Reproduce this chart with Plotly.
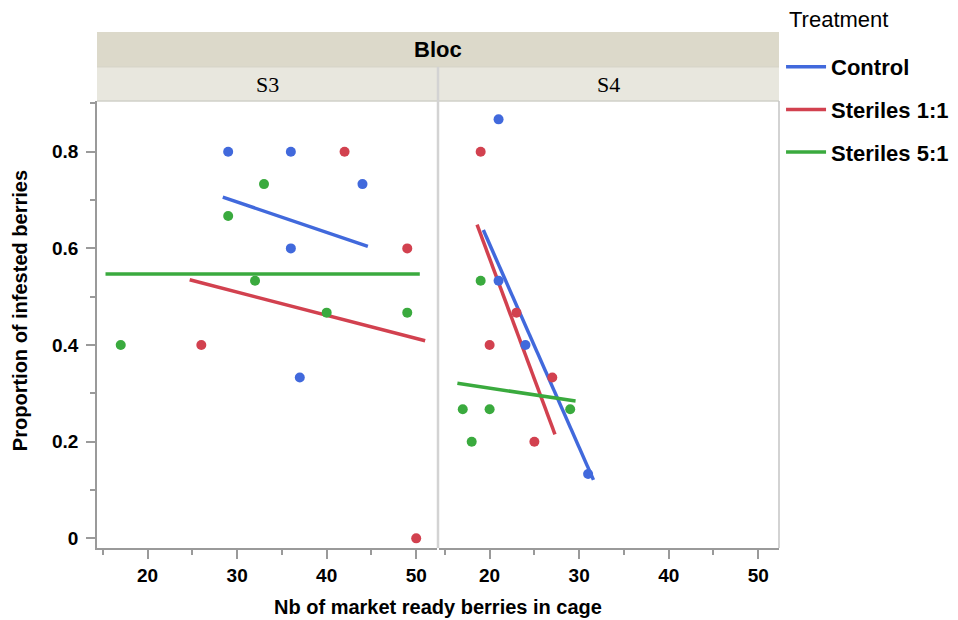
import plotly.graph_objects as go

# ---------------- data ----------------
treatments = ["Control", "Steriles 1:1", "Steriles 5:1"]
colors = ["#4169dc", "#d2414f", "#3aaa3e"]
blocs = ["S3", "S4"]

s3_control_x = [29, 36, 44, 36, 37]
s3_control_y = [0.80, 0.80, 0.733, 0.60, 0.333]
s3_ster11_x = [42, 49, 26, 50]
s3_ster11_y = [0.80, 0.60, 0.40, 0.0]
s3_ster51_x = [33, 29, 32, 40, 49, 17]
s3_ster51_y = [0.733, 0.667, 0.533, 0.467, 0.467, 0.40]

s4_control_x = [21, 21, 24, 31]
s4_control_y = [0.867, 0.533, 0.40, 0.133]
s4_ster11_x = [19, 23, 20, 27, 25]
s4_ster11_y = [0.80, 0.467, 0.40, 0.333, 0.20]
s4_ster51_x = [19, 17, 20, 29, 18]
s4_ster51_y = [0.533, 0.267, 0.267, 0.267, 0.20]

# fitted lines (end points)
s3_control_fit_x = [28.4, 44.6]
s3_control_fit_y = [0.706, 0.604]
s3_ster11_fit_x = [24.7, 51.0]
s3_ster11_fit_y = [0.535, 0.409]
s3_ster51_fit_x = [15.3, 50.4]
s3_ster51_fit_y = [0.547, 0.547]

s4_control_fit_x = [19.3, 31.6]
s4_control_fit_y = [0.638, 0.121]
s4_ster11_fit_x = [18.6, 27.3]
s4_ster11_fit_y = [0.649, 0.215]
s4_ster51_fit_x = [16.4, 29.6]
s4_ster51_fit_y = [0.321, 0.284]

y_ticks = [0, 0.2, 0.4, 0.6, 0.8]
x_ticks = [20, 30, 40, 50]

points = {
    "S3": [(s3_control_x, s3_control_y), (s3_ster11_x, s3_ster11_y), (s3_ster51_x, s3_ster51_y)],
    "S4": [(s4_control_x, s4_control_y), (s4_ster11_x, s4_ster11_y), (s4_ster51_x, s4_ster51_y)],
}
fits = {
    "S3": [(s3_control_fit_x, s3_control_fit_y), (s3_ster11_fit_x, s3_ster11_fit_y), (s3_ster51_fit_x, s3_ster51_fit_y)],
    "S4": [(s4_control_fit_x, s4_control_fit_y), (s4_ster11_fit_x, s4_ster11_fit_y), (s4_ster51_fit_x, s4_ster51_fit_y)],
}

FONT = "Liberation Sans, Arial, sans-serif"
AX = "#9a9a9a"

fig = go.Figure()
for pi, bloc in enumerate(blocs):
    xa = "x" if pi == 0 else "x2"
    ya = "y" if pi == 0 else "y2"
    for ti, t in enumerate(treatments):
        fx, fy = fits[bloc][ti]
        fig.add_trace(go.Scatter(
            x=fx, y=fy, mode="lines", xaxis=xa, yaxis=ya,
            line=dict(color=colors[ti], width=3.5),
            name=t, legendgroup=t, showlegend=(pi == 0), hoverinfo="skip"))
    for ti, t in enumerate(treatments):
        px, py = points[bloc][ti]
        fig.add_trace(go.Scatter(
            x=px, y=py, mode="markers", xaxis=xa, yaxis=ya,
            marker=dict(color=colors[ti], size=10, line=dict(width=0)),
            name=t, legendgroup=t, showlegend=False))

xr = [14.35, 52.32]
yr = [-0.02, 0.905]
common_x = dict(range=xr, tickvals=x_ticks, ticks="outside", ticklen=9, tickwidth=1.5,
                tickcolor=AX, showline=True, linecolor=AX, linewidth=1.5,
                showgrid=False, zeroline=False,
                minor=dict(dtick=5, tick0=0, ticks="outside", ticklen=5, tickcolor=AX, tickwidth=1.5),
                tickfont=dict(family=FONT, size=19, color="black", weight="bold"))
common_y = dict(range=yr, showgrid=False, zeroline=False)

gap = 0.0015
# page body has an 8px margin, so the figure is 8px smaller and margins shifted
fig.update_layout(
    width=950, height=612,
    margin=dict(l=89, r=179, t=93, b=72, autoexpand=False),
    paper_bgcolor="white", plot_bgcolor="white",
    xaxis=dict(domain=[0, 0.5 - gap], anchor="y", **common_x),
    xaxis2=dict(domain=[0.5 + gap, 1], anchor="y2", **common_x),
    yaxis=dict(domain=[0, 1], anchor="x", tickvals=y_ticks, ticks="outside", ticklen=9,
               tickwidth=1.5, tickcolor=AX, showline=True, linecolor=AX, linewidth=1.5,
               minor=dict(dtick=0.1, tick0=0, ticks="outside", ticklen=5, tickcolor=AX, tickwidth=1.5),
               tickfont=dict(family=FONT, size=19, color="black", weight="bold"),
               ticklabelstandoff=4, **common_y),
    yaxis2=dict(domain=[0, 1], anchor="x2", showticklabels=False, ticks="", showline=False, **common_y),
    showlegend=True,
    legend=dict(x=1.003, xanchor="left", y=1.123, yanchor="top",
                font=dict(family=FONT, size=22, color="black", weight="bold"),
                tracegroupgap=11, itemwidth=40, bgcolor="rgba(0,0,0,0)"),
)

# strips
Y_S = 1.0761
Y_B = 1.1544
shapes = [
    dict(type="rect", xref="paper", yref="paper", x0=0, x1=1, y0=Y_S, y1=Y_B,
         fillcolor="#dcd9ca", line=dict(width=0), layer="below"),
    dict(type="rect", xref="paper", yref="paper", x0=0, x1=0.5 - gap, y0=1.0, y1=Y_S,
         fillcolor="#e8e7de", line=dict(width=0), layer="below"),
    dict(type="rect", xref="paper", yref="paper", x0=0.5 + gap, x1=1, y0=1.0, y1=Y_S,
         fillcolor="#e8e7de", line=dict(width=0), layer="below"),
    dict(type="line", xref="paper", yref="paper", x0=0, x1=1, y0=Y_S, y1=Y_S,
         line=dict(color="#d6d4c8", width=1)),
    dict(type="line", xref="paper", yref="paper", x0=0, x1=1, y0=1.0, y1=1.0,
         line=dict(color="#d0d0c8", width=1.5)),
    dict(type="line", xref="paper", yref="paper", x0=0.5, x1=0.5, y0=0, y1=Y_S,
         line=dict(color="#d3d3d3", width=2.5)),
    dict(type="line", xref="paper", yref="paper", x0=1, x1=1, y0=0, y1=1.0,
         line=dict(color="#c4c4c4", width=1.5)),
]
fig.update_layout(shapes=shapes)

annotations = [
    dict(text="Bloc", xref="paper", yref="paper", x=0.5, y=(Y_S + Y_B) / 2,
         showarrow=False, font=dict(family=FONT, size=22, color="black", weight="bold"),
         xanchor="center", yanchor="middle"),
    dict(text=blocs[0], xref="paper", yref="paper", x=0.25, y=(1.0 + Y_S) / 2 - 0.002,
         showarrow=False, font=dict(family="Liberation Serif, Times New Roman, serif", size=22, color="black"),
         xanchor="center", yanchor="middle"),
    dict(text=blocs[1], xref="paper", yref="paper", x=0.75, y=(1.0 + Y_S) / 2 - 0.002,
         showarrow=False, font=dict(family="Liberation Serif, Times New Roman, serif", size=22, color="black"),
         xanchor="center", yanchor="middle"),
    dict(text="Treatment", xref="paper", yref="paper", x=1.011, y=(548 - 20) / 447,
         showarrow=False, xanchor="left", yanchor="middle",
         font=dict(family=FONT, size=22, color="black")),
    dict(text="Nb of market ready berries in cage", xref="paper", yref="paper",
         x=0.5, y=-0.132, showarrow=False, xanchor="center", yanchor="middle",
         font=dict(family=FONT, size=20, color="black", weight="bold")),
    dict(text="Proportion of infested berries", xref="paper", yref="paper",
         x=-0.113, y=0.532, showarrow=False, textangle=-90, xanchor="center", yanchor="middle",
         font=dict(family=FONT, size=20, color="black", weight="bold")),
]
fig.update_layout(annotations=annotations)

fig.write_html("out.html")
